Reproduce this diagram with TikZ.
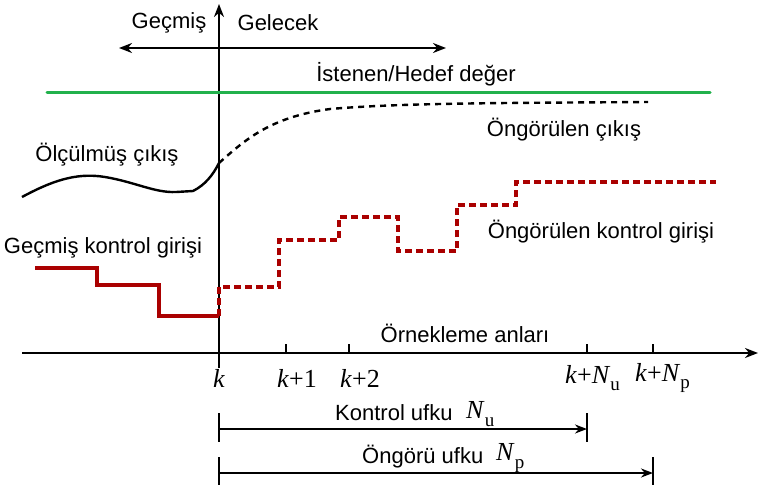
\documentclass[tikz,border=0pt]{standalone}
\usepackage{fontspec}
\setmainfont{Liberation Sans}
\newfontfamily\tms{Liberation Serif}
\usetikzlibrary{arrows.meta}
\definecolor{hgreen}{RGB}{34,177,76}
\definecolor{dred}{RGB}{170,0,0}
\newcommand{\kk}{\textit{k}}
\newcommand{\sbs}[1]{\raisebox{-0.3em}{\fontsize{19}{20}\selectfont #1}}
\begin{document}
\begin{tikzpicture}[x=1pt,y=-1pt,
  lbl/.style={font=\fontsize{22}{26}\selectfont, inner sep=0pt},
  mlbl/.style={font=\fontsize{26}{30}\selectfont\tms, inner sep=0pt},
  axisline/.style={line width=2.8pt},
  arr/.style={-{Stealth[length=13pt,width=10pt]}},
  tick/.style={line width=2.5pt},
  meas/.style={line width=2.4pt},
  pred/.style={line width=2.4pt, dash pattern=on 6pt off 5pt},
  pastin/.style={line width=3.2pt, dred},
  predin/.style={line width=3.2pt, dred, dash pattern=on 7pt off 4pt},
  hbar/.style={line width=2.5pt},
  harr/.style={line width=2.4pt, -{Stealth[length=12pt,width=9pt]}}
]
\useasboundingbox (0,0) rectangle (759,485);

% axes
\coordinate (vb) at (219,368);
\coordinate (vt) at (219,4);
\coordinate (hl) at (22,353);
\coordinate (hr) at (758,353);
\draw[axisline,arr] (vb) -- (vt);
\draw[axisline,arr] (hl) -- (hr);

% past/future arrow
\coordinate (pf0) at (219,48);
\coordinate (pfl) at (119,48);
\coordinate (pfr) at (446,48);
\draw[line width=2pt,arr] (pf0) -- (pfl);
\draw[line width=2pt,arr] (pf0) -- (pfr);
\node[lbl] (gecmis) at (169,23) {Geçmiş};
\node[lbl] (gelecek) at (278,23) {Gelecek};

% reference line
\coordinate (g0) at (47,92);
\coordinate (g1) at (710,92);
\draw[hgreen,line width=3pt,line cap=round] (g0) -- (g1);
\node[lbl] (hedef) at (416,74) {İstenen/Hedef değer};

% measured output
\coordinate (m0) at (22,197);
\coordinate (mk) at (219,163);
\draw[meas] (m0) .. controls (50,182) and (75,172) .. (105,177)
   .. controls (135,182) and (155,193) .. (176,192)
   -- (193,191) .. controls (205,185) and (213,175) .. (mk);
\node[lbl] (olc) at (107,155) {Ölçülmüş çıkış};

% predicted output
\coordinate (pe) at (648,102);
\draw[pred] (mk) .. controls (245,140) and (270,117) .. (330,109)
  .. controls (400,103) and (500,103) .. (pe);
\node[lbl] (ongc) at (564,130) {Öngörülen çıkış};

% past control input
\coordinate (u0) at (35,268);
\coordinate (uk) at (219,316);
\draw[pastin] (u0) -- (97,268) -- (97,285) -- (159,285) -- (159,316) -- (uk);
\node[lbl] (gki) at (103,248) {Geçmiş kontrol girişi};

% predicted control input
\coordinate (ue) at (716,182);
\draw[predin] (uk) -- (219,287) -- (279,287) -- (279,240) -- (339,240) -- (339,217)
  -- (398,217) -- (398,251) -- (457,251) -- (457,205) -- (516,205) -- (516,182) -- (ue);
\node[lbl] (oki) at (601,232) {Öngörülen kontrol girişi};

% sampling instants
\node[lbl] (orn) at (465,333) {Örnekleme anları};
\foreach \n/\x in {t1/286,t2/349,tu/587,tp/653}{
  \coordinate (\n a) at (\x,344);
  \coordinate (\n b) at (\x,353);
  \draw[tick] (\n a) -- (\n b);
}
\node[mlbl] (lk) at (219,378) {\kk};
\node[mlbl] (l1) at (297,378) {\kk+1};
\node[mlbl] (l2) at (360,378) {\kk+2};
\node[mlbl,anchor=west] (lu) at (565,378) {\kk+\textit{N}\sbs{u}};
\node[mlbl,anchor=west] (lp) at (635,378) {\kk+\textit{N}\sbs{p}};

% control horizon
\coordinate (cu0a) at (219,413); \coordinate (cu0b) at (219,442);
\coordinate (cu1a) at (587,413); \coordinate (cu1b) at (587,442);
\coordinate (cu0) at (219,429); \coordinate (cu1) at (587,429);
\draw[hbar] (cu0a) -- (cu0b);
\draw[hbar] (cu1a) -- (cu1b);
\draw[harr] (cu0) -- (cu1);
\node[lbl,anchor=west] (ku) at (335,413) {Kontrol ufku};
\node[mlbl,anchor=west] (kun) at (466,414) {\textit{N}\sbs{u}};

% prediction horizon
\coordinate (cp0a) at (219,457); \coordinate (cp0b) at (219,485);
\coordinate (cp1a) at (653,457); \coordinate (cp1b) at (653,485);
\coordinate (cp0) at (219,473); \coordinate (cp1) at (653,473);
\draw[hbar] (cp0a) -- (cp0b);
\draw[hbar] (cp1a) -- (cp1b);
\draw[harr] (cp0) -- (cp1);
\node[lbl,anchor=west] (ou) at (362,457) {Öngörü ufku};
\node[mlbl,anchor=west] (oun) at (496,458) {\textit{N}\sbs{p}};
\end{tikzpicture}
\end{document}
